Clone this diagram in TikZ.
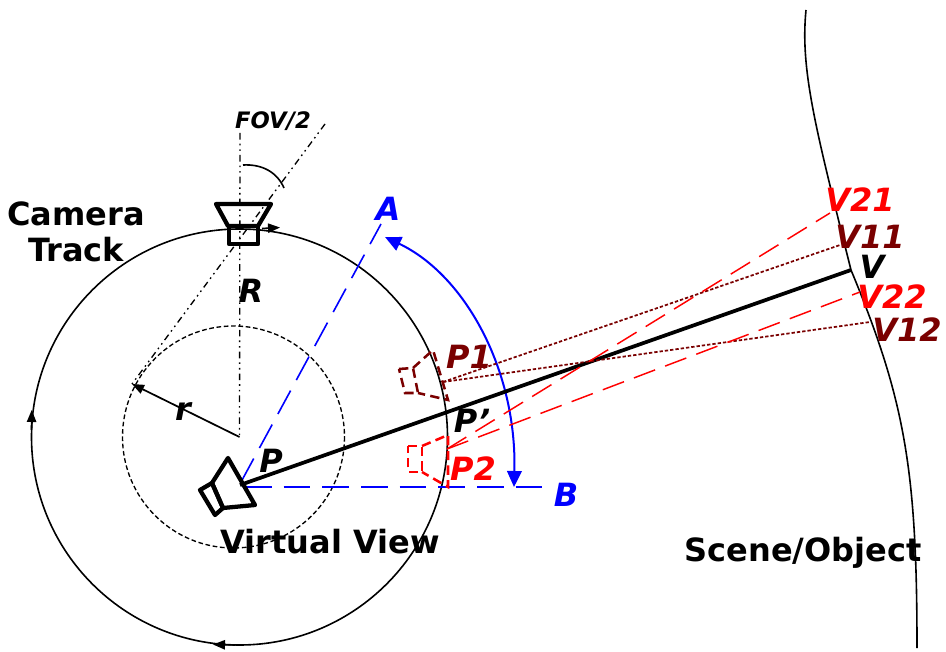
\documentclass[tikz,border=0pt]{standalone}
\usepackage{fontspec}
\setmainfont{DejaVu Sans}
\usetikzlibrary{arrows.meta}
\definecolor{dred}{RGB}{122,0,0}
\tikzset{
  x=0.75pt,y=-0.75pt,
  lab/.style={font=\bfseries\fontsize{24}{27}\selectfont,inner sep=0pt,align=center},
  ilab/.style={font=\bfseries\itshape\fontsize{24}{24}\selectfont,inner sep=0pt},
  thin line/.style={line width=1.2pt},
  cam/.style={line width=3.2pt,line join=round},
  dcam/.style={line width=1.9pt,dash pattern=on 7pt off 4pt},
  ray/.style={line width=1.3pt,dash pattern=on 2.5pt off 1.5pt,color=dred},
  rray/.style={line width=1.1pt,dash pattern=on 17pt off 8pt,color=red},
  bl/.style={line width=1.2pt,color=blue,dash pattern=on 20pt off 9pt},
  dd/.style={line width=1pt,dash pattern=on 5pt off 3pt on 1.2pt off 3pt on 1.2pt off 3pt},
  tip/.style={-{Triangle[length=9pt,width=7pt]}},
}
\begin{document}
\begin{tikzpicture}
\useasboundingbox (0,0) rectangle (946,652);
% named coordinates
\coordinate (C) at (239.5,437);
\coordinate (Pv) at (240,485);
\coordinate (V) at (851,270);
\coordinate (Ftop) at (240,133);
\coordinate (Fedge) at (325,124);
\coordinate (rend) at (132,384);
\coordinate (Pa) at (381,224);
\coordinate (Pb) at (542,487);
\coordinate (P1o) at (443,382);
\coordinate (P2o) at (447,449);
\coordinate (V11) at (840,245);
\coordinate (V12) at (870,322);
\coordinate (V21) at (830,213);
\coordinate (V22) at (860,292);
% circles
\draw[thin line] (C) circle[radius=208];
\draw[line width=1pt,dash pattern=on 3.5pt off 2pt] (233.5,437) circle[radius=111];
\draw[tip,thin line] (262,228.5) -- (280,227.5);
\draw[tip,thin line] (31.5,430) -- (31.7,410);
\draw[tip,thin line] (235,645) -- (213,644.5);
% scene curve
\draw[thin line] (806,10) .. controls (800,70) and (816,130) .. (V)
  .. controls (905,400) and (917,470) .. (917,648);
% FOV
\draw[dd] (Ftop) -- (C);
\draw[dd] (Fedge) -- (rend);
\draw[thin line] (243,165) .. controls (262,164) and (277,172) .. (284,188);
\draw[tip,line width=1.3pt] (C) -- (rend);
% blue
\draw[bl] (241,482) -- (Pa);
\draw[bl] (245,487) -- (Pb);
\draw[blue,line width=1.5pt,{Triangle[length=12pt,width=11pt]}-{Triangle[length=12pt,width=11pt]}]
  (385,237) .. controls (465,275) and (517,370) .. (514,487);
% rays
\draw[line width=2.8pt] (Pv) -- (V);
\draw[ray] (P1o) -- (V11);
\draw[ray] (P1o) -- (V12);
\draw[rray] (P2o) -- (V21);
\draw[rray] (P2o) -- (V22);
% top camera
\draw[cam] (216,204) -- (271,204) -- (258,226) -- (228,226) -- cycle;
\draw[cam] (229,226) rectangle (258,244);
% virtual camera
\draw[cam] (228,458) -- (255,505) -- (223,508) -- (212,483) -- cycle;
\draw[cam] (212,483) -- (223,508) -- (215,515) -- (200,490) -- cycle;
% P1 camera
\draw[dcam,dred] (399,369) -- (413,368) -- (418,393) -- (405,393) -- cycle;
\draw[dcam,dred] (413,368) -- (433,350) -- (448,400) -- (418,393);
% P2 camera
\draw[dcam,red] (408,446) -- (422,446) -- (422,472) -- (408,472) -- cycle;
\draw[dcam,red] (422,446) -- (448,435) -- (448,487) -- (422,472);
% labels
\node[lab] (ct) at (76,232) {Camera\\Track};
\node[lab] (vv) at (330,542) {Virtual View};
\node[lab] (so) at (803,553) {Scene/Object};
\node[ilab,font=\bfseries\itshape\fontsize{17}{17}\selectfont] (fov) at (273,121) {FOV/2};
\node[ilab,blue] (A) at (388,209) {A};
\node[ilab,blue] (B) at (566,495) {B};
\node[ilab] (R) at (251,291) {R};
\node[ilab] (r) at (183,412) {r};
\node[ilab] (P) at (271,461) {P};
\node[ilab] (Pp) at (472,421) {P'};
\node[ilab,dred] (P1) at (469,357) {P1};
\node[ilab,red] (P2) at (473,469) {P2};
\node[ilab,red] (lV21) at (860,200) {V21};
\node[ilab,dred] (lV11) at (870,237) {V11};
\node[ilab] (lV) at (872,267) {V};
\node[ilab,red] (lV22) at (892,297) {V22};
\node[ilab,dred] (lV12) at (907,330) {V12};
\end{tikzpicture}
\end{document}
